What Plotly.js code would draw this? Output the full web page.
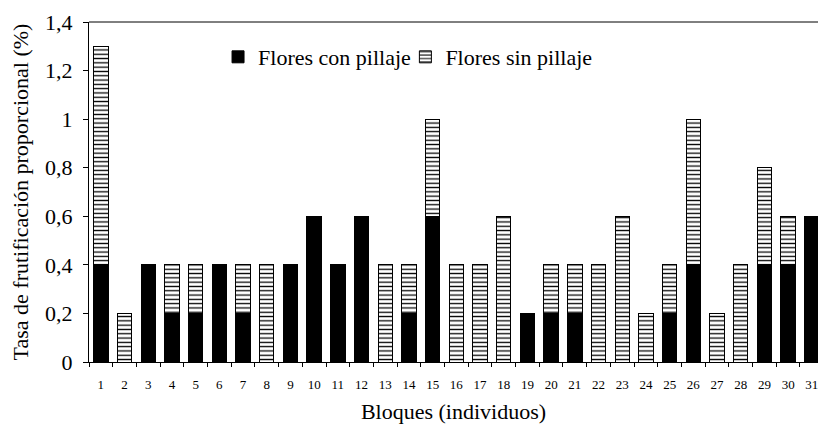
<!DOCTYPE html>
<html>
<head>
<meta charset="utf-8">
<script src="https://cdn.plot.ly/plotly-3.0.1.min.js"></script>
<style>html,body{margin:0;padding:0;background:#fff;}#chart{width:818px;height:425px;}</style>
</head>
<body>
<div id="chart"></div>
<script>
const bloques = ["1","2","3","4","5","6","7","8","9","10","11","12","13","14","15","16","17","18","19","20","21","22","23","24","25","26","27","28","29","30","31"];
const conPillaje = [0.4,0,0.4,0.2,0.2,0.4,0.2,0,0.4,0.6,0.4,0.6,0,0.2,0.6,0,0,0,0.2,0.2,0.2,0,0,0,0.2,0.4,0,0,0.4,0.4,0.6];
const sinPillaje = [0.9,0.2,0,0.2,0.2,0,0.2,0.4,0,0,0,0,0.4,0.2,0.4,0.4,0.4,0.6,0,0.2,0.2,0.4,0.6,0.2,0.2,0.6,0.2,0.4,0.4,0.2,0];
const serif = "Liberation Serif";

const traces = [
  {type:"bar", name:"Flores con pillaje", x:bloques, y:conPillaje, legend:"legend",
   marker:{color:"#000000", line:{color:"#000000", width:1}}},
  {type:"bar", name:"Flores sin pillaje", x:bloques, y:sinPillaje, legend:"legend2",
   marker:{color:"#ffffff", line:{color:"#000000", width:1},
     pattern:{shape:"-", fgcolor:"#000000", bgcolor:"#ffffff", size:4.3, solidity:0.3}}}
];

const legendBase = {orientation:"h", xanchor:"left", y:0.897, yanchor:"middle",
  font:{family:serif, size:22, color:"#000"}, bgcolor:"rgba(0,0,0,0)", itemwidth:30};

const layout = {
  width:818, height:425,
  margin:{l:89, r:0, t:22, b:63},
  paper_bgcolor:"#ffffff", plot_bgcolor:"#ffffff",
  barmode:"stack", bargap:0.39,
  separators:",.",
  font:{family:serif, color:"#000000"},
  showlegend:true,
  legend:Object.assign({}, legendBase, {x:0.177}),
  legend2:Object.assign({}, legendBase, {x:0.434}),
  xaxis:{type:"category", range:[-0.5, 30.26], tickson:"boundaries",
    ticks:"outside", ticklen:4, tickcolor:"#000", tickwidth:1, ticklabelstandoff:10,
    showline:true, linecolor:"#000", linewidth:1, mirror:false,
    showgrid:false, zeroline:false,
    tickfont:{family:serif, size:13, color:"#000"},
    title:{text:"Bloques (individuos)", font:{family:serif, size:22, color:"#000"}, standoff:13}},
  yaxis:{range:[0,1.4], dtick:0.2, tick0:0,
    ticks:"outside", ticklen:5, tickcolor:"#000", tickwidth:1, ticklabelstandoff:6,
    showline:true, linecolor:"#000", linewidth:1,
    showgrid:false, zeroline:false,
    tickfont:{family:serif, size:22, color:"#000"},
    title:{text:"Tasa de frutificación proporcional (%)", font:{family:serif, size:22, color:"#000"}, standoff:10}},
  shapes:[{type:"line", xref:"paper", yref:"paper", x0:0, x1:1, y0:1, y1:1, line:{color:"#000", width:1}}]
};

Plotly.newPlot("chart", traces, layout, {displayModeBar:false, staticPlot:true});
</script>
</body>
</html>
